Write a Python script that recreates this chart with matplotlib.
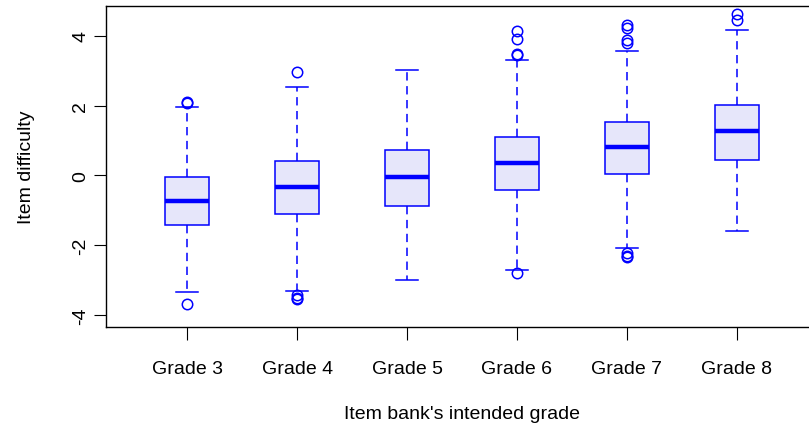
import matplotlib
matplotlib.use('Agg')
import matplotlib.pyplot as plt

plt.rcParams['font.family'] = ['Liberation Sans', 'DejaVu Sans']
plt.rcParams['lines.scale_dashes'] = False

# Item difficulty summary per intended grade
grades = ['Grade 3', 'Grade 4', 'Grade 5', 'Grade 6', 'Grade 7', 'Grade 8']
q1 = [-1.42, -1.10, -0.88, -0.43, 0.05, 0.45]
med = [-0.72, -0.34, -0.05, 0.36, 0.81, 1.27]
q3 = [-0.05, 0.40, 0.74, 1.10, 1.52, 2.03]
whislo = [-3.34, -3.32, -3.00, -2.71, -2.07, -1.60]
whishi = [1.97, 2.54, 3.01, 3.30, 3.56, 4.17]
fliers = [
    [2.10, 2.08, -3.69],
    [2.97, -3.43, -3.50, -3.55],
    [],
    [3.44, 3.47, 3.92, 4.13, -2.80],
    [3.80, 3.87, 4.22, 4.32, -2.21, -2.30, -2.35],
    [4.45, 4.64],
]

stats = []
for i in range(len(grades)):
    stats.append({'label': grades[i], 'q1': q1[i], 'med': med[i],
                  'q3': q3[i], 'whislo': whislo[i], 'whishi': whishi[i],
                  'fliers': fliers[i]})

fig = plt.figure(figsize=(8.09, 4.27), dpi=100)
ax = fig.add_axes([0.131, 0.232, 0.880, 0.752])

ax.bxp(stats, widths=0.4, patch_artist=True, showfliers=True,
       boxprops=dict(facecolor='#E6E6FA', edgecolor='blue', linewidth=1.1),
       medianprops=dict(color='blue', linewidth=3.2, solid_capstyle='butt'),
       whiskerprops=dict(color='blue', linewidth=1.1, linestyle=(0, (6, 4))),
       capprops=dict(color='blue', linewidth=1.1),
       capwidths=0.2,
       flierprops=dict(marker='o', markerfacecolor='none',
                       markeredgecolor='blue', markersize=7.5,
                       markeredgewidth=1.1, linestyle='none'))

ax.set_xlim(0.26, 6.74)
ax.set_ylim(-4.34, 4.86)
ax.set_yticks([-4, -2, 0, 2, 4])
ax.set_yticklabels(['-4', '-2', '0', '2', '4'], rotation=90, va='center')
ax.tick_params(axis='both', length=9, width=0.8, labelsize=14, color='black')
ax.tick_params(axis='x', pad=15)
ax.tick_params(axis='y', pad=3)
for sp in ax.spines.values():
    sp.set_linewidth(1.0)

ax.set_ylabel('Item difficulty', fontsize=14, labelpad=27)
ax.set_xlabel("Item bank's intended grade", fontsize=14, labelpad=20)

fig.savefig('out.png', dpi=100)
